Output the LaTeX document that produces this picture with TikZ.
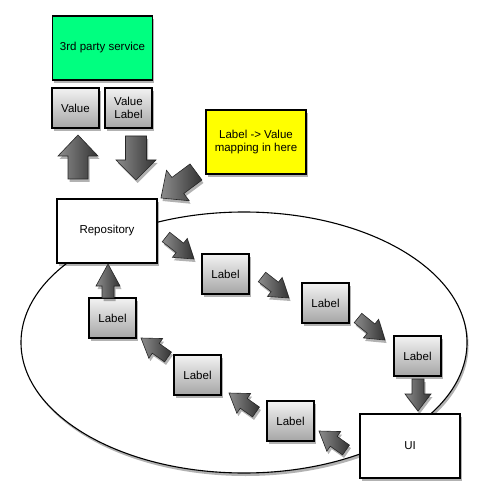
\documentclass[tikz,border=0pt]{standalone}
\usepackage{fontspec}
\setmainfont{Liberation Sans}
\usetikzlibrary{calc,shadows,shapes.geometric}
\definecolor{servgreen}{RGB}{0,255,128}
\definecolor{mapyellow}{RGB}{255,255,0}
\tikzset{
  shad/.style={drop shadow={shadow xshift=1.5pt,shadow yshift=-3pt,opacity=.3,fill=black}},
  plainbox/.style={draw=black,line width=1.1pt,fill=white,minimum width=100pt,minimum height=64pt,inner sep=1pt,align=center,shad,font=\fontsize{11.5}{13.5}\selectfont},
  labelbox/.style={draw=black,line width=1.1pt,top color=white!95!black,bottom color=black!35,minimum width=47pt,minimum height=40pt,inner sep=1pt,align=center,shad,font=\fontsize{11.5}{13.5}\selectfont},
  arrowfill/.style={draw=black!85,line width=0.6pt,left color=black!45,right color=black!80,shad}
}
\newcommand\blockarrow[5]{%
  \coordinate (ba-hb) at ($(#2)!#5!(#1)$);
  \path[arrowfill] ($(#1)!#3!90:(#2)$) -- ($(ba-hb)!#3!90:(#2)$) -- ($(ba-hb)!#4!90:(#2)$) -- (#2)
     -- ($(ba-hb)!#4!-90:(#2)$) -- ($(ba-hb)!#3!-90:(#2)$) -- ($(#1)!#3!-90:(#2)$) -- cycle;}
\begin{document}
\begin{tikzpicture}[x=1pt,y=-1pt]
\useasboundingbox (0,0) rectangle (487,502);
% ellipse
\node[draw=black,line width=1.1pt,fill=white,ellipse,minimum width=446pt,minimum height=261pt,inner sep=0pt,shad] (ring) at (244,342.5) {};
% top
\node[plainbox,fill=servgreen] (serv) at (102.5,48) {3rd party service};
\node[labelbox] (val) at (75.5,108) {Value};
\node[labelbox] (vallab) at (128.5,108) {Value\\Label};
\node[plainbox,fill=mapyellow] (map) at (256,142) {Label -> Value\\mapping in here};
% ring nodes
\node[plainbox] (repo) at (107,231) {Repository};
\node[plainbox] (ui) at (410,446) {UI};
\node[labelbox] (l1) at (225.5,274) {Label};
\node[labelbox] (l2) at (325.5,303) {Label};
\node[labelbox] (l3) at (417.5,356) {Label};
\node[labelbox] (l4) at (290.5,421) {Label};
\node[labelbox] (l5) at (197.5,375) {Label};
\node[labelbox] (l6) at (112.5,318) {Label};
% arrow end points
\coordinate (upS) at (78,179);   \coordinate (upE) at (78,135);
\coordinate (dnS) at (136,136);  \coordinate (dnE) at (136,180);
\coordinate (ymS) at (196,172);  \coordinate (ymE) at (161,198);
\coordinate (r1S) at (166,237);  \coordinate (r1E) at (194,259);
\coordinate (a12S) at (262,277); \coordinate (a12E) at (289,298);
\coordinate (a23S) at (358,318); \coordinate (a23E) at (385,340);
\coordinate (a3uS) at (418,379); \coordinate (a3uE) at (418,411);
\coordinate (au4S) at (346,450); \coordinate (au4E) at (319,431);
\coordinate (a45S) at (256,412); \coordinate (a45E) at (229,393);
\coordinate (a56S) at (168,357); \coordinate (a56E) at (141,338);
\coordinate (a6rS) at (108,298); \coordinate (a6rE) at (108,264);
% arrows
\blockarrow{upS}{upE}{10pt}{20pt}{21pt}
\blockarrow{dnS}{dnE}{10.5pt}{20pt}{20pt}
\blockarrow{ymS}{ymE}{10pt}{19pt}{21pt}
\blockarrow{r1S}{r1E}{6pt}{12pt}{18pt}
\blockarrow{a12S}{a12E}{6pt}{12pt}{18pt}
\blockarrow{a23S}{a23E}{6pt}{12pt}{18pt}
\blockarrow{a3uS}{a3uE}{6pt}{13pt}{17pt}
\blockarrow{au4S}{au4E}{6pt}{12pt}{18pt}
\blockarrow{a45S}{a45E}{6pt}{12pt}{18pt}
\blockarrow{a56S}{a56E}{6pt}{12pt}{18pt}
\blockarrow{a6rS}{a6rE}{6pt}{12pt}{22pt}
\end{tikzpicture}
\end{document}
